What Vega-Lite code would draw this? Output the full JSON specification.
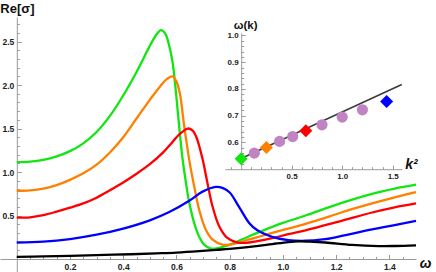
{
  "$schema": "https://vega.github.io/schema/vega-lite/v6.json",
  "width": 416,
  "height": 255,
  "autosize": "none",
  "padding": {"left": 0, "top": 17, "right": 20, "bottom": 0},
  "background": "white",
  "config": {"view": {"stroke": null}},
  "datasets": {
    "curves": [
      {"s":"green","w":0,"re":1.115},{"s":"green","w":0.05,"re":1.12},{"s":"green","w":0.1,"re":1.14},{"s":"green","w":0.15,"re":1.18},{"s":"green","w":0.2,"re":1.24},{"s":"green","w":0.25,"re":1.33},{"s":"green","w":0.3,"re":1.46},{"s":"green","w":0.35,"re":1.645},{"s":"green","w":0.4,"re":1.88},{"s":"green","w":0.45,"re":2.15},{"s":"green","w":0.5,"re":2.45},{"s":"green","w":0.525,"re":2.58},{"s":"green","w":0.542,"re":2.63},{"s":"green","w":0.558,"re":2.59},{"s":"green","w":0.572,"re":2.46},{"s":"green","w":0.585,"re":2.27},{"s":"green","w":0.598,"re":1.92},{"s":"green","w":0.61,"re":1.53},{"s":"green","w":0.623,"re":1.15},{"s":"green","w":0.636,"re":0.87},{"s":"green","w":0.648,"re":0.65},{"s":"green","w":0.667,"re":0.41},{"s":"green","w":0.685,"re":0.26},{"s":"green","w":0.704,"re":0.165},{"s":"green","w":0.729,"re":0.12},{"s":"green","w":0.76,"re":0.128},{"s":"green","w":0.8,"re":0.165},{"s":"green","w":0.85,"re":0.23},{"s":"green","w":0.91,"re":0.31},{"s":"green","w":0.96,"re":0.37},{"s":"green","w":1.0,"re":0.415},{"s":"green","w":1.085,"re":0.5},{"s":"green","w":1.21,"re":0.635},{"s":"green","w":1.335,"re":0.75},{"s":"green","w":1.42,"re":0.81},{"s":"green","w":1.5,"re":0.855},
      {"s":"orange","w":0,"re":0.785},{"s":"orange","w":0.05,"re":0.79},{"s":"orange","w":0.1,"re":0.81},{"s":"orange","w":0.15,"re":0.85},{"s":"orange","w":0.2,"re":0.91},{"s":"orange","w":0.25,"re":0.985},{"s":"orange","w":0.3,"re":1.085},{"s":"orange","w":0.35,"re":1.225},{"s":"orange","w":0.4,"re":1.4},{"s":"orange","w":0.45,"re":1.615},{"s":"orange","w":0.5,"re":1.83},{"s":"orange","w":0.54,"re":1.99},{"s":"orange","w":0.565,"re":2.07},{"s":"orange","w":0.585,"re":2.1},{"s":"orange","w":0.6,"re":2.04},{"s":"orange","w":0.613,"re":1.9},{"s":"orange","w":0.629,"re":1.53},{"s":"orange","w":0.648,"re":1.14},{"s":"orange","w":0.667,"re":0.83},{"s":"orange","w":0.685,"re":0.57},{"s":"orange","w":0.71,"re":0.34},{"s":"orange","w":0.735,"re":0.225},{"s":"orange","w":0.773,"re":0.165},{"s":"orange","w":0.8,"re":0.165},{"s":"orange","w":0.83,"re":0.185},{"s":"orange","w":0.873,"re":0.225},{"s":"orange","w":0.92,"re":0.265},{"s":"orange","w":0.96,"re":0.3},{"s":"orange","w":1.02,"re":0.35},{"s":"orange","w":1.085,"re":0.405},{"s":"orange","w":1.17,"re":0.485},{"s":"orange","w":1.25,"re":0.565},{"s":"orange","w":1.335,"re":0.64},{"s":"orange","w":1.42,"re":0.71},{"s":"orange","w":1.5,"re":0.77},
      {"s":"red","w":0,"re":0.475},{"s":"red","w":0.05,"re":0.48},{"s":"red","w":0.1,"re":0.505},{"s":"red","w":0.15,"re":0.545},{"s":"red","w":0.2,"re":0.59},{"s":"red","w":0.25,"re":0.64},{"s":"red","w":0.3,"re":0.705},{"s":"red","w":0.35,"re":0.79},{"s":"red","w":0.4,"re":0.88},{"s":"red","w":0.45,"re":0.98},{"s":"red","w":0.5,"re":1.09},{"s":"red","w":0.548,"re":1.22},{"s":"red","w":0.575,"re":1.31},{"s":"red","w":0.61,"re":1.43},{"s":"red","w":0.642,"re":1.5},{"s":"red","w":0.66,"re":1.48},{"s":"red","w":0.675,"re":1.4},{"s":"red","w":0.698,"re":1.15},{"s":"red","w":0.716,"re":0.88},{"s":"red","w":0.735,"re":0.61},{"s":"red","w":0.76,"re":0.38},{"s":"red","w":0.79,"re":0.245},{"s":"red","w":0.823,"re":0.195},{"s":"red","w":0.86,"re":0.185},{"s":"red","w":0.904,"re":0.205},{"s":"red","w":0.96,"re":0.24},{"s":"red","w":1.02,"re":0.285},{"s":"red","w":1.085,"re":0.33},{"s":"red","w":1.21,"re":0.43},{"s":"red","w":1.335,"re":0.535},{"s":"red","w":1.42,"re":0.595},{"s":"red","w":1.5,"re":0.64},
      {"s":"blue","w":0,"re":0.19},{"s":"blue","w":0.1,"re":0.2},{"s":"blue","w":0.2,"re":0.23},{"s":"blue","w":0.3,"re":0.28},{"s":"blue","w":0.4,"re":0.35},{"s":"blue","w":0.5,"re":0.445},{"s":"blue","w":0.573,"re":0.54},{"s":"blue","w":0.648,"re":0.67},{"s":"blue","w":0.698,"re":0.775},{"s":"blue","w":0.748,"re":0.83},{"s":"blue","w":0.775,"re":0.815},{"s":"blue","w":0.8,"re":0.765},{"s":"blue","w":0.835,"re":0.6},{"s":"blue","w":0.873,"re":0.415},{"s":"blue","w":0.904,"re":0.33},{"s":"blue","w":0.96,"re":0.255},{"s":"blue","w":1.02,"re":0.218},{"s":"blue","w":1.085,"re":0.21},{"s":"blue","w":1.15,"re":0.225},{"s":"blue","w":1.21,"re":0.258},{"s":"blue","w":1.335,"re":0.34},{"s":"blue","w":1.42,"re":0.39},{"s":"blue","w":1.5,"re":0.44},
      {"s":"black","w":0,"re":0.025},{"s":"black","w":0.1,"re":0.03},{"s":"black","w":0.2,"re":0.037},{"s":"black","w":0.3,"re":0.045},{"s":"black","w":0.43,"re":0.055},{"s":"black","w":0.524,"re":0.065},{"s":"black","w":0.6,"re":0.074},{"s":"black","w":0.685,"re":0.09},{"s":"black","w":0.75,"re":0.105},{"s":"black","w":0.82,"re":0.122},{"s":"black","w":0.9,"re":0.148},{"s":"black","w":0.96,"re":0.172},{"s":"black","w":1.02,"re":0.195},{"s":"black","w":1.06,"re":0.203},{"s":"black","w":1.1,"re":0.2},{"s":"black","w":1.16,"re":0.19},{"s":"black","w":1.26,"re":0.162},{"s":"black","w":1.36,"re":0.149},{"s":"black","w":1.42,"re":0.15},{"s":"black","w":1.5,"re":0.158}
    ],
    "fit": [{"k2":0,"om":0.54},{"k2":1.59,"om":0.817}],
    "pts": [
      {"k2":0,"om":0.539,"c":"green","kind":"diamond"},
      {"k2":0.13,"om":0.56,"c":"purple","kind":"circle"},
      {"k2":0.25,"om":0.581,"c":"orange","kind":"diamond"},
      {"k2":0.38,"om":0.604,"c":"purple","kind":"circle"},
      {"k2":0.51,"om":0.622,"c":"purple","kind":"circle"},
      {"k2":0.64,"om":0.644,"c":"red","kind":"diamond"},
      {"k2":0.8,"om":0.666,"c":"purple","kind":"circle"},
      {"k2":1.0,"om":0.695,"c":"purple","kind":"circle"},
      {"k2":1.2,"om":0.722,"c":"purple","kind":"circle"},
      {"k2":1.44,"om":0.753,"c":"blue","kind":"diamond"}
    ],
    "dummy": [{"a":0,"b":0.6}]
  },
  "layer": [
    {
      "data": {"name": "curves"},
      "mark": {"type": "line", "interpolate": "catmull-rom", "strokeWidth": 2.3},
      "encoding": {
        "x": {"field": "w", "type": "quantitative",
          "scale": {"domain": [-0.063, 1.5], "nice": false, "zero": false},
          "axis": {"orient": "bottom", "offset": -13, "values": [0.2,0.4,0.6,0.8,1.0,1.2,1.4], "format": ".1f",
            "grid": false, "domainColor": "#9a9a9a", "domainWidth": 1, "tickColor": "#9a9a9a", "tickSize": -4.5, "labelPadding": 8,
            "labelFont": "Liberation Sans", "labelFontSize": 8.5, "labelFontWeight": "bold", "labelColor": "#222222",
            "labelOverlap": false, "labelFlush": false,
            "title": "ω", "titleX": 425, "titleY": 4, "titleAlign": "center", "titleBaseline": "middle", "titleAngle": 0,
            "titleFont": "Liberation Sans", "titleFontSize": 14, "titleFontStyle": "italic", "titleFontWeight": "bold", "titleColor": "#111111"}},
        "y": {"field": "re", "type": "quantitative",
          "scale": {"domain": [-0.149, 2.782], "nice": false, "zero": false},
          "axis": {"orient": "left", "offset": -16.8, "values": [0.5,1.0,1.5,2.0,2.5], "format": ".1f",
            "grid": false, "domainColor": "#9a9a9a", "domainWidth": 1, "tickColor": "#9a9a9a", "tickSize": -4.5, "labelPadding": 7.5,
            "labelFont": "Liberation Sans", "labelFontSize": 8.5, "labelFontWeight": "bold", "labelColor": "#222222",
            "labelOverlap": false, "labelFlush": false,
            "title": "Re[σ]", "titleX": -17, "titleY": -9, "titleAlign": "left", "titleBaseline": "middle", "titleAngle": 0,
            "titleFont": "Liberation Sans", "titleFontSize": 13, "titleFontWeight": "bold", "titleColor": "#111111"}},
        "color": {"field": "s", "type": "nominal",
          "scale": {"domain": ["green","orange","red","blue","black"], "range": ["#11e611","#ff8000","#ff0000","#0000ff","#000000"]},
          "legend": null}
      }
    },
    {
      "data": {"name": "dummy"},
      "mark": {"type": "point", "opacity": 0},
      "encoding": {
        "x": {"field": "a", "type": "quantitative",
          "scale": {"domain": [-0.063, 1.5], "nice": false, "zero": false},
          "axis": {"orient": "bottom", "offset": -13, "values": [0.05,0.1,0.15,0.25,0.3,0.35,0.45,0.5,0.55,0.65,0.7,0.75,0.85,0.9,0.95,1.05,1.1,1.15,1.25,1.3,1.35,1.45],
            "grid": false, "domain": false, "labels": false, "tickColor": "#9a9a9a", "tickSize": -2.5, "title": null}},
        "y": {"field": "b", "type": "quantitative",
          "scale": {"domain": [-0.149, 2.782], "nice": false, "zero": false},
          "axis": {"orient": "left", "offset": -16.8, "values": [0.1,0.2,0.3,0.4,0.6,0.7,0.8,0.9,1.1,1.2,1.3,1.4,1.6,1.7,1.8,1.9,2.1,2.2,2.3,2.4,2.6,2.7],
            "grid": false, "domain": false, "labels": false, "tickColor": "#9a9a9a", "tickSize": -2.5, "title": null}}
      }
    },
    {
      "data": {"name": "fit"},
      "mark": {"type": "line", "color": "#3c3c3c", "strokeWidth": 1.6},
      "encoding": {
        "x": {"field": "k2", "type": "quantitative",
          "scale": {"domain": [-0.16, 1.592], "range": [225, 402], "nice": false, "zero": false},
          "axis": {"orient": "bottom", "offset": -102.8, "values": [0.5,1.0,1.5], "format": ".1f",
            "grid": false, "domainColor": "#9a9a9a", "domainWidth": 1, "tickColor": "#9a9a9a", "tickSize": -4, "labelPadding": 7,
            "labelFont": "Liberation Sans", "labelFontSize": 8, "labelFontWeight": "bold", "labelColor": "#222222",
            "labelOverlap": false, "labelFlush": false,
            "title": "k²", "titleX": 411, "titleY": -5, "titleAlign": "center", "titleBaseline": "middle", "titleAngle": 0,
            "titleFont": "Liberation Sans", "titleFontSize": 14, "titleFontStyle": "italic", "titleFontWeight": "bold", "titleColor": "#111111"}},
        "y": {"field": "om", "type": "quantitative",
          "scale": {"domain": [0.5, 1.01], "range": [152.2, 15.8], "nice": false, "zero": false},
          "axis": {"orient": "left", "offset": -241.2, "values": [0.6,0.7,0.8,0.9,1.0], "format": ".1f",
            "grid": false, "domainColor": "#9a9a9a", "domainWidth": 1, "tickColor": "#9a9a9a", "tickSize": -4, "labelPadding": 7,
            "labelFont": "Liberation Sans", "labelFontSize": 8, "labelFontWeight": "bold", "labelColor": "#222222",
            "labelOverlap": false, "labelFlush": false,
            "title": "ω(k)", "titleX": 4, "titleY": 8, "titleAlign": "center", "titleBaseline": "middle", "titleAngle": 0,
            "titleFont": "Liberation Sans", "titleFontSize": 11.5, "titleFontWeight": "bold", "titleColor": "#111111"}}
      }
    },
    {
      "data": {"name": "dummy"},
      "mark": {"type": "point", "opacity": 0},
      "encoding": {
        "x": {"field": "a", "type": "quantitative",
          "scale": {"domain": [-0.16, 1.592], "range": [225, 402], "nice": false, "zero": false},
          "axis": {"orient": "bottom", "offset": -102.8, "values": [-0.1,0.1,0.2,0.3,0.4,0.6,0.7,0.8,0.9,1.1,1.2,1.3,1.4],
            "grid": false, "domain": false, "labels": false, "tickColor": "#9a9a9a", "tickSize": -2.5, "title": null}},
        "y": {"field": "b", "type": "quantitative",
          "scale": {"domain": [0.5, 1.01], "range": [152.2, 15.8], "nice": false, "zero": false},
          "axis": {"orient": "left", "offset": -241.2, "values": [0.52,0.54,0.56,0.58,0.62,0.64,0.66,0.68,0.72,0.74,0.76,0.78,0.82,0.84,0.86,0.88,0.92,0.94,0.96,0.98],
            "grid": false, "domain": false, "labels": false, "tickColor": "#9a9a9a", "tickSize": -2.5, "title": null}}
      }
    },
    {
      "data": {"name": "pts"},
      "mark": {"type": "point", "filled": true, "opacity": 1},
      "encoding": {
        "x": {"field": "k2", "type": "quantitative",
          "scale": {"domain": [-0.16, 1.592], "range": [225, 402], "nice": false, "zero": false}, "axis": null},
        "y": {"field": "om", "type": "quantitative",
          "scale": {"domain": [0.5, 1.01], "range": [152.2, 15.8], "nice": false, "zero": false}, "axis": null},
        "color": {"field": "c", "type": "nominal",
          "scale": {"domain": ["green","orange","red","blue","purple"], "range": ["#11e611","#ff8000","#ff0000","#0000ff","#c084c4"]}, "legend": null},
        "shape": {"field": "kind", "type": "nominal",
          "scale": {"domain": ["diamond","circle"], "range": ["diamond","circle"]}, "legend": null},
        "size": {"field": "kind", "type": "ordinal",
          "scale": {"domain": ["diamond","circle"], "range": [170, 125]}, "legend": null}
      }
    }
  ],
  "resolve": {
    "scale": {"x": "independent", "y": "independent", "color": "independent"},
    "axis": {"x": "independent", "y": "independent"}
  }
}
